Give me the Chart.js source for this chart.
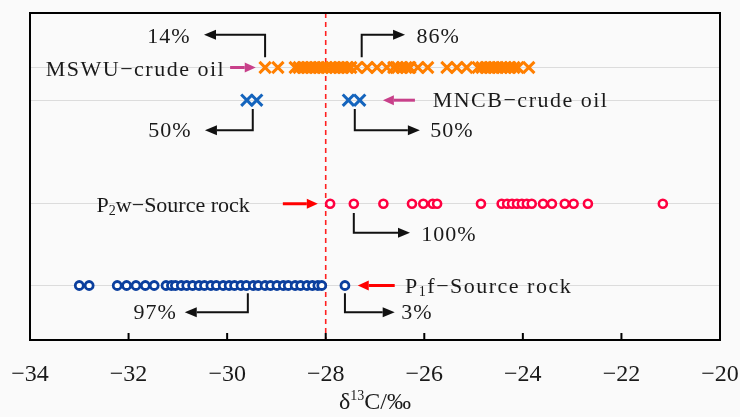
<!DOCTYPE html>
<html>
<head>
<meta charset="utf-8">
<script src="https://cdn.jsdelivr.net/npm/chart.js@4.4.1/dist/chart.umd.min.js"></script>
<style>
  html, body { margin: 0; padding: 0; background: #fafafa; }
  #wrap { width: 740px; height: 417px; }
</style>
</head>
<body>
<div id="wrap"><canvas id="c" width="740" height="417"></canvas></div>
<script>
// δ13C values (‰) for each sample group
const xTicks = [-34, -32, -30, -28, -26, -24, -22, -20];
const cutoff = -28;

const mswuOil = [-29.23, -28.97, -28.62, -28.54, -28.46, -28.38, -28.30, -28.22, -28.14, -28.06,
  -27.98, -27.89, -27.81, -27.73, -27.65, -27.57, -27.49, -27.37, -27.16, -26.96, -26.76,
  -26.62, -26.54, -26.45, -26.37, -26.29, -26.13, -25.93, -25.54, -25.34, -25.14,
  -24.91, -24.83, -24.75, -24.67, -24.59, -24.51, -24.43, -24.35, -24.26, -24.18, -24.10, -23.88];
const mncbOil = [-29.60, -29.40, -27.54, -27.31];
const p2wRock = [-27.91, -27.43, -26.83, -26.25, -26.02, -25.83, -25.74, -24.85, -24.43, -24.32,
  -24.22, -24.12, -24.02, -23.92, -23.82, -23.59, -23.41, -23.15, -22.97, -22.68, -21.16];
const p1fRock = [-33.00, -32.80, -32.23, -32.04, -31.85, -31.66, -31.48, -31.24, -31.13, -31.05,
  -30.93, -30.82, -30.70, -30.57, -30.46, -30.33, -30.22, -30.08, -29.96, -29.85, -29.72,
  -29.61, -29.47, -29.37, -29.23, -29.12, -28.99, -28.86, -28.76, -28.62, -28.51, -28.38,
  -28.27, -28.16, -28.08, -27.61];

// vertical level of each sample row
const rowMSWU = 5, rowMNCB = 4.4, rowP2w = 2.5, rowP1f = 1;

const serif = '"Liberation Serif", "Times New Roman", serif';
const ink = '#1a1a1a';

// callout arrows with percentage labels, in data coordinates
const callouts = [
  { text: '14%',  at: [-31.18, 5.56], path: [[-29.23, 5.19], [-29.23, 5.60], [-30.47, 5.60]] },
  { text: '86%',  at: [-25.72, 5.56], path: [[-27.27, 5.19], [-27.27, 5.60], [-26.39, 5.60]] },
  { text: '50%',  at: [-31.16, 3.83], path: [[-29.48, 4.24], [-29.48, 3.85], [-30.45, 3.85]] },
  { text: '50%',  at: [-25.44, 3.83], path: [[-27.41, 4.24], [-27.41, 3.85], [-26.09, 3.85]] },
  { text: '100%', at: [-25.50, 1.93], path: [[-27.43, 2.33], [-27.43, 1.97], [-26.29, 1.97]] },
  { text: '97%',  at: [-31.46, 0.50], path: [[-29.58, 0.86], [-29.58, 0.51], [-30.86, 0.51]] },
  { text: '3%',   at: [-26.15, 0.50], path: [[-27.61, 0.86], [-27.61, 0.51], [-26.60, 0.51]] }
];

// group names with pointer arrows
const groupLabels = [
  { parts: [['MSWU\u2212crude oil', 22, 0]], at: [-30.04, 4.95], align: 'right', spacing: 1.5,
    arrow: [[-29.94, 5.0], [-29.42, 5.0]], color: '#c8408a' },
  { parts: [['MNCB\u2212crude oil', 22, 0]], at: [-25.83, 4.39], align: 'left', spacing: 1.5,
    arrow: [[-26.19, 4.4], [-26.84, 4.4]], color: '#c8408a' },
  { parts: [['P', 22, 0], ['2', 14, 5], ['w\u2212Source rock', 22, 0]], at: [-29.54, 2.46], align: 'right', spacing: 0,
    arrow: [[-28.87, 2.5], [-28.16, 2.5]], color: '#ff0000' },
  { parts: [['P', 22, 0], ['1', 14, 5], ['f\u2212Source rock', 22, 0]], at: [-26.39, 0.97], align: 'left', spacing: 1.5,
    arrow: [[-26.60, 1.0], [-27.35, 1.0]], color: '#ff0000' }
];

function richText(ctx, parts, x, y, align) {
  let w = 0;
  parts.forEach(p => { ctx.font = p[1] + 'px ' + serif; w += ctx.measureText(p[0]).width; });
  let cx = align === 'right' ? x - w : align === 'center' ? x - w / 2 : x;
  ctx.textAlign = 'left';
  ctx.textBaseline = 'middle';
  parts.forEach(p => {
    ctx.font = p[1] + 'px ' + serif;
    ctx.fillText(p[0], cx, y + p[2]);
    cx += ctx.measureText(p[0]).width;
  });
}

function arrow(ctx, pts, color, lw, head, half) {
  const n = pts.length;
  const [x1, y1] = pts[n - 2], [x2, y2] = pts[n - 1];
  const a = Math.atan2(y2 - y1, x2 - x1);
  const bx = x2 - Math.cos(a) * head, by = y2 - Math.sin(a) * head;
  ctx.save();
  ctx.strokeStyle = color; ctx.fillStyle = color; ctx.lineWidth = lw;
  ctx.lineJoin = 'miter';
  ctx.beginPath();
  ctx.moveTo(pts[0][0], pts[0][1]);
  for (let i = 1; i < n - 1; i++) ctx.lineTo(pts[i][0], pts[i][1]);
  ctx.lineTo(bx, by);
  ctx.stroke();
  ctx.beginPath();
  ctx.moveTo(x2, y2);
  ctx.lineTo(bx - Math.sin(a) * half, by + Math.cos(a) * half);
  ctx.lineTo(bx + Math.sin(a) * half, by - Math.cos(a) * half);
  ctx.closePath();
  ctx.fill();
  ctx.restore();
}

const decorations = {
  id: 'decorations',
  beforeDatasetsDraw(chart) {
    const { ctx, chartArea: ca, scales: { x } } = chart;
    const px = x.getPixelForValue(cutoff);
    ctx.save();
    ctx.strokeStyle = '#ff2020';
    ctx.lineWidth = 1.6;
    ctx.setLineDash([5, 4]);
    ctx.beginPath();
    ctx.moveTo(px, ca.top);
    ctx.lineTo(px, ca.bottom);
    ctx.stroke();
    ctx.restore();
  },
  afterDraw(chart) {
    const { ctx, chartArea: ca, scales: { x, y } } = chart;
    const P = v => [x.getPixelForValue(v[0]), y.getPixelForValue(v[1])];
    ctx.save();
    // frame
    ctx.strokeStyle = '#000';
    ctx.lineWidth = 2;
    ctx.strokeRect(ca.left, ca.top, ca.right - ca.left, ca.bottom - ca.top);
    // inward tick marks
    xTicks.forEach(t => {
      const tx = x.getPixelForValue(t);
      ctx.beginPath();
      ctx.moveTo(tx, ca.bottom);
      ctx.lineTo(tx, ca.bottom - 7);
      ctx.stroke();
    });
    // callouts
    ctx.fillStyle = ink;
    ctx.letterSpacing = '1px';
    callouts.forEach(c => {
      arrow(ctx, c.path.map(P), '#111', 2, 12, 5);
      const [tx, ty] = P(c.at);
      richText(ctx, [[c.text, 22, 0]], tx, ty, 'center');
    });
    groupLabels.forEach(g => {
      const [tx, ty] = P(g.at);
      ctx.fillStyle = ink;
      ctx.letterSpacing = g.spacing + 'px';
      richText(ctx, g.parts, tx, ty, g.align);
      arrow(ctx, g.arrow.map(P), g.color, 3, 11, 5);
    });
    // axis title
    ctx.fillStyle = ink;
    ctx.letterSpacing = '0px';
    richText(ctx, [['\u03b4', 24, 0], ['13', 14, -7], ['C/\u2030', 24, 0]], (ca.left + ca.right) / 2, 403, 'center');
    ctx.restore();
  }
};

const row = (vals, level) => vals.map(v => ({ x: v, y: level }));

new Chart(document.getElementById('c'), {
  type: 'scatter',
  data: {
    datasets: [
      { label: 'MSWU crude oil', data: row(mswuOil, rowMSWU), pointStyle: 'crossRot', pointRadius: 8,
        borderColor: '#ff7f00', pointBorderWidth: 3, backgroundColor: '#ff7f00' },
      { label: 'MNCB crude oil', data: row(mncbOil, rowMNCB), pointStyle: 'crossRot', pointRadius: 8,
        borderColor: '#1464bd', pointBorderWidth: 3, backgroundColor: '#1464bd' },
      { label: 'P2w source rock', data: row(p2wRock, rowP2w), pointStyle: 'circle', pointRadius: 4,
        borderColor: '#ff0040', pointBorderWidth: 2.6, backgroundColor: '#ffffff' },
      { label: 'P1f source rock', data: row(p1fRock, rowP1f), pointStyle: 'circle', pointRadius: 4,
        borderColor: '#0b3f9e', pointBorderWidth: 2.8, backgroundColor: '#ffffff' }
    ]
  },
  options: {
    responsive: false,
    devicePixelRatio: 1,
    animation: false,
    layout: { padding: { top: 13, right: 20, left: 0, bottom: 0 } },
    plugins: { legend: { display: false }, tooltip: { enabled: false } },
    scales: {
      x: {
        type: 'linear', min: -34, max: -20,
        afterBuildTicks: s => { s.ticks = xTicks.map(v => ({ value: v })); },
        afterFit: s => { s.height = 77; s.paddingLeft = 0; s.paddingRight = 0; },
        grid: { display: false, drawTicks: false },
        border: { display: false },
        ticks: {
          padding: 20, color: ink, maxRotation: 0, autoSkip: false,
          font: { family: serif, size: 24 },
          callback: v => (v < 0 ? '\u2212' : '') + Math.abs(v)
        }
      },
      y: {
        type: 'linear', min: 0, max: 6,
        afterBuildTicks: s => { s.ticks = [rowP1f, rowP2w, rowMNCB, rowMSWU].map(v => ({ value: v })); },
        afterFit: s => { s.width = 30; },
        grid: { color: '#dcdcdc', lineWidth: 1, drawTicks: false },
        border: { display: false },
        ticks: { display: false }
      }
    }
  },
  plugins: [decorations]
});
</script>
</body>
</html>
